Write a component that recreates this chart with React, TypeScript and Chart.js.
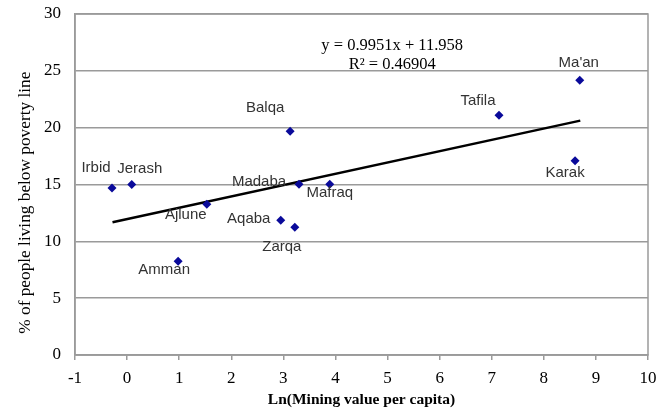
import React, { useEffect, useRef } from "react";
import { Chart, registerables } from "chart.js";

Chart.register(...registerables);

const governorates = ["Irbid", "Jerash", "Amman", "Ajlune", "Aqaba", "Zarqa", "Balqa", "Madaba", "Mafraq", "Tafila", "Ma'an", "Karak"];
const lnMining = [-0.29, 0.09, 0.98, 1.53, 2.95, 3.22, 3.13, 3.30, 3.89, 7.14, 8.69, 8.60];
const povertyPct = [14.7, 15.0, 8.25, 13.27, 11.86, 11.25, 19.68, 15.03, 15.03, 21.09, 24.17, 17.1];
const trendX = [-0.28, 8.7];
const trendY = [11.68, 20.62];
const equationLines = ["y = 0.9951x + 11.958", "R² = 0.46904"];
const yTitle = "% of people living below poverty line";
const xTitle = "Ln(Mining value per capita)";
const xTicks = [-1, 0, 1, 2, 3, 4, 5, 6, 7, 8, 9, 10];
const yTicks = [0, 5, 10, 15, 20, 25, 30];

// label placement offsets (pixels, relative to marker)
const labelOffsets: [number, number][] = [
  [-16, -20], [8, -16], [-14, 9], [-21, 11], [-32, -1], [-13, 20],
  [-25, -23], [-40, -2], [0, 9], [-21, -14], [-1, -17], [-10, 12],
];

const GRID = "#9a9a9a";
const SERIF = "'Liberation Serif', 'Times New Roman', serif";
const SANS = "'Liberation Sans', Arial, sans-serif";

const overlayPlugin = {
  id: "overlay",
  beforeDatasetsDraw(chart: any) {
    const { ctx, chartArea } = chart;
    ctx.save();
    ctx.strokeStyle = GRID;
    ctx.lineWidth = 1.5;
    ctx.strokeRect(chartArea.left, chartArea.top, chartArea.right - chartArea.left, chartArea.bottom - chartArea.top);
    ctx.restore();
  },
  afterDatasetsDraw(chart: any) {
    const { ctx, scales, chartArea } = chart;
    const xs = scales.x;
    const ys = scales.y;
    ctx.save();
    ctx.font = `15px ${SANS}`;
    ctx.fillStyle = "#333333";
    ctx.textAlign = "center";
    ctx.textBaseline = "middle";
    governorates.forEach((name, i) => {
      const px = xs.getPixelForValue(lnMining[i]);
      const py = ys.getPixelForValue(povertyPct[i]);
      const [dx, dy] = labelOffsets[i];
      ctx.fillText(name, px + dx, py + dy);
    });
    ctx.font = `16.5px ${SERIF}`;
    ctx.fillStyle = "#000000";
    const cx = xs.getPixelForValue(5.09);
    ctx.fillText(equationLines[0], cx, ys.getPixelForValue(27.2));
    ctx.fillText(equationLines[1], cx, ys.getPixelForValue(25.55));

    // vertical axis title
    ctx.translate(chartArea.left - 50, ys.getPixelForValue(13.4));
    ctx.rotate(-Math.PI / 2);
    ctx.font = `17.3px ${SERIF}`;
    ctx.fillText(yTitle, 0, 0);
    ctx.restore();
  },
};

export default function App() {
  const ref = useRef<HTMLCanvasElement>(null);
  useEffect(() => {
    if (!ref.current) return;
    const chart = new Chart(ref.current, {
      type: "scatter",
      data: {
        datasets: [
          {
            label: "Governorates",
            data: lnMining.map((x, i) => ({ x, y: povertyPct[i] })),
            pointStyle: "rectRot",
            pointRadius: 4.5,
            backgroundColor: "#0a0a9a",
            borderColor: "#0a0a9a",
            borderWidth: 0,
            order: 1,
          },
          {
            type: "line",
            label: "Trend",
            data: trendX.map((x, i) => ({ x, y: trendY[i] })),
            borderColor: "#000000",
            borderWidth: 2.5,
            pointRadius: 0,
            showLine: true,
            fill: false,
            order: 2,
          } as any,
        ],
      },
      options: {
        animation: false,
        responsive: false,
        maintainAspectRatio: false,
        layout: { padding: { top: 14, right: 21, left: 0, bottom: 0 } },
        plugins: { legend: { display: false }, tooltip: { enabled: false } },
        scales: {
          x: {
            type: "linear",
            min: -1,
            max: 10,
            afterBuildTicks: (s: any) => { s.ticks = xTicks.map((v) => ({ value: v })); },
            afterFit: (s: any) => { s.height = 59; },
            grid: { drawOnChartArea: false, drawTicks: true, tickLength: 5, color: GRID, lineWidth: 1.5 },
            border: { display: true, color: GRID, width: 1.5 },
            ticks: { color: "#000", font: { family: SERIF, size: 17 }, padding: 8, maxRotation: 0 },
            title: {
              display: true,
              text: xTitle,
              color: "#000",
              font: { family: SERIF, size: 15.5, weight: "bold" },
              padding: { top: 0, bottom: 5 },
            },
          },
          y: {
            type: "linear",
            min: 0,
            max: 30,
            afterBuildTicks: (s: any) => { s.ticks = yTicks.map((v) => ({ value: v })); },
            afterFit: (s: any) => { s.width = 75; },
            grid: { drawOnChartArea: true, drawTicks: true, tickLength: 14, tickColor: "rgba(0,0,0,0)", color: GRID, lineWidth: 1.5 },
            border: { display: true, color: GRID, width: 1.5 },
            ticks: { color: "#000", font: { family: SERIF, size: 17 }, padding: 0 },
            title: { display: false },
          },
        },
      },
      plugins: [overlayPlugin],
    });
    return () => chart.destroy();
  }, []);
  return (
    <div style={{ position: "fixed", left: 0, top: 0, width: 669, height: 414, background: "#fff" }}>
      <canvas ref={ref} width={669} height={414} style={{ width: 669, height: 414, display: "block" }} />
    </div>
  );
}
